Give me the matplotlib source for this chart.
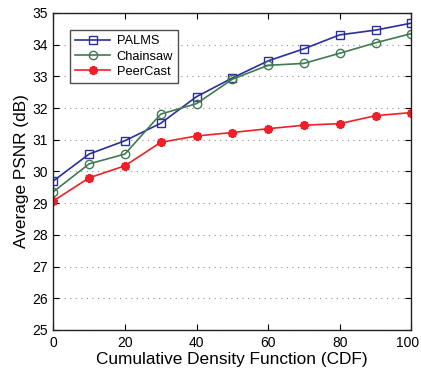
import matplotlib
matplotlib.use("Agg")
import matplotlib.pyplot as plt
from matplotlib.transforms import ScaledTranslation

plt.rcParams['font.family'] = ['Liberation Sans', 'DejaVu Sans']

cdf = [0, 10, 20, 30, 40, 50, 60, 70, 80, 90, 100]
palms = [29.70, 30.55, 30.97, 31.52, 32.36, 32.95, 33.49, 33.87, 34.31, 34.46, 34.68]
chainsaw = [29.36, 30.24, 30.55, 31.81, 32.14, 32.91, 33.35, 33.41, 33.73, 34.06, 34.35]
peercast = [29.07, 29.80, 30.18, 30.92, 31.12, 31.23, 31.35, 31.46, 31.51, 31.76, 31.86]

x_ticks = [0, 20, 40, 60, 80, 100]
y_ticks = [25, 26, 27, 28, 29, 30, 31, 32, 33, 34, 35]

fig = plt.figure(figsize=(4.21, 3.79), dpi=100)
ax = fig.add_axes([0.1266, 0.1293, 0.8504, 0.8364])

ax.plot(cdf, palms, color='#2b2f9a', lw=1.2, marker='s', ms=5.5,
        mfc='none', mec='#2b2f9a', mew=1.0, label='PALMS')
ax.plot(cdf, chainsaw, color='#3f7a52', lw=1.2, marker='o', ms=6,
        mfc='none', mec='#3f7a52', mew=1.0, label='Chainsaw')
ax.plot(cdf, peercast, color='#f0202a', lw=1.2, marker=(8, 2, 0), ms=6.5,
        mfc='#f0202a', mec='#f0202a', mew=1.6, label='PeerCast')

ax.set_xlim(0, 100)
ax.set_ylim(25, 35)
ax.set_xticks(x_ticks)
ax.set_yticks(y_ticks)
ax.tick_params(direction='in', top=True, right=True, length=4, width=0.8,
               labelsize=10, pad=4)
ax.yaxis.grid(True, linestyle=(0, (1, 4)), color='#909090', lw=0.8)
ax.set_axisbelow(True)
for s in ax.spines.values():
    s.set_linewidth(1.0)
    s.set_color('#222222')

# keep the last x tick label inside the canvas
last = ax.get_xticklabels()[-1]
last.set_transform(last.get_transform() + ScaledTranslation(-4 / 100, 0, fig.dpi_scale_trans))

ax.set_xlabel('Cumulative Density Function (CDF)', fontsize=12.4, labelpad=2)
ax.set_ylabel('Average PSNR (dB)', fontsize=12.4, labelpad=2)

leg = ax.legend(loc='upper left', bbox_to_anchor=(0.047, 0.946), fontsize=9.3,
                frameon=True, fancybox=False, edgecolor='#222222',
                handlelength=2.7, borderpad=0.4, labelspacing=0.25,
                handletextpad=0.5, borderaxespad=0)
leg.get_frame().set_linewidth(1.0)

fig.savefig('out.png', dpi=100)
